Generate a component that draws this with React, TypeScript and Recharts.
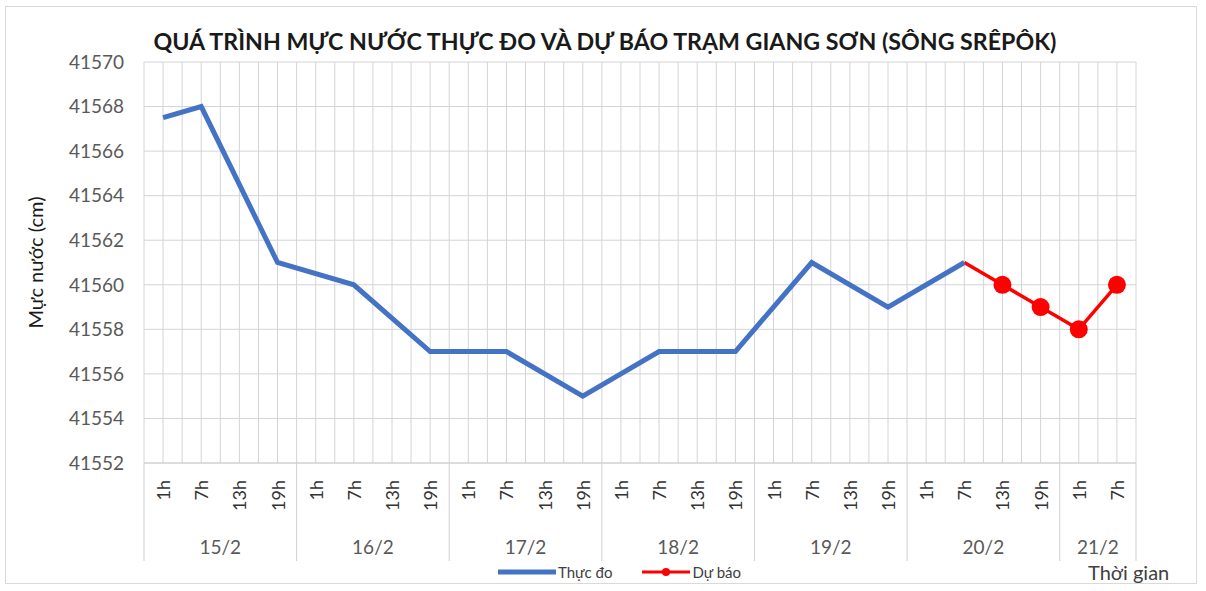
import React from "react";
import { LineChart, Line, XAxis, YAxis, CartesianGrid } from "recharts";

const hours = ["1h","7h","13h","19h","1h","7h","13h","19h","1h","7h","13h","19h","1h","7h","13h","19h","1h","7h","13h","19h","1h","7h","13h","19h","1h","7h"];
const dates = ["15/2","15/2","15/2","15/2","16/2","16/2","16/2","16/2","17/2","17/2","17/2","17/2","18/2","18/2","18/2","18/2","19/2","19/2","19/2","19/2","20/2","20/2","20/2","20/2","21/2","21/2"];
const actual: (number | null)[] = [41567.5,41568,null,41561,null,41560,null,41557,null,41557,null,41555,null,41557,null,41557,null,41561,null,41559,null,41561,null,null,null,null];
const forecast: (number | null)[] = [null,null,null,null,null,null,null,null,null,null,null,null,null,null,null,null,null,null,null,null,null,41561,41560,41559,41558,41560];
const yTicks = [41552,41554,41556,41558,41560,41562,41564,41566,41568,41570];

const data = hours.map((h, i) => ({ key: i, hour: h, date: dates[i], actual: actual[i], forecast: forecast[i] }));

const W = 1206, H = 591;
const LEFT = 144, RIGHT = 70, TOP = 62, BOTTOM = 128;
const PLOT_W = W - LEFT - RIGHT;
const N = hours.length;
const STEP = PLOT_W / N;
const FONT = "Lato, 'Open Sans', sans-serif";

const HourTick = (props: any) => {
  const { x, y, payload } = props;
  const i = payload.index;
  const d = dates[i];
  const isStart = i === 0 || dates[i - 1] !== d;
  let count = 0;
  for (let k = i; k < N && dates[k] === d; k++) count++;
  const isLast = i === N - 1;
  return (
    <g>
      <text x={x} y={y + 9} transform={`rotate(-90 ${x} ${y + 9})`} textAnchor="end" dominantBaseline="central"
        fontSize={18} fill="#333333" fontFamily={FONT}>{hours[i]}</text>
      {isStart && (
        <>
          <line x1={x - STEP / 2} x2={x - STEP / 2} y1={y - 8} y2={y + 90} stroke="#d0d0d0" />
          <text x={x - STEP / 2 + (count * STEP) / 2} y={y + 83} textAnchor="middle" fontSize={19} fill="#595959" fontFamily={FONT}>{d}</text>
        </>
      )}
      {isLast && <line x1={x + STEP / 2} x2={x + STEP / 2} y1={y - 8} y2={y + 90} stroke="#d0d0d0" />}
    </g>
  );
};

export default function App() {
  return (
    <div style={{ position: "absolute", left: 0, top: 0, width: W, height: H, background: "#fff" }}>
      <div style={{ position: "absolute", left: 5, top: 6, width: 1192, height: 578, border: "1px solid #d9d9d9", boxSizing: "border-box" }} />
      <div style={{ position: "absolute", left: 0, top: 27, width: 1210, textAlign: "center", fontFamily: FONT, fontWeight: 700, fontSize: 23.2, color: "#1a1a1a", whiteSpace: "nowrap" }}>
        QUÁ TRÌNH MỰC NƯỚC THỰC ĐO VÀ DỰ BÁO TRẠM GIANG SƠN (SÔNG SRÊPÔK)
      </div>
      <div style={{ position: "absolute", left: 1088, top: 560, fontFamily: FONT, fontSize: 20, color: "#404040" }}>Thời gian</div>
      <div style={{ position: "absolute", left: 498, top: 563, display: "flex", alignItems: "center", fontFamily: FONT, fontSize: 15, color: "#404040" }}>
        <svg width={58} height={12}><line x1={0} x2={58} y1={6} y2={6} stroke="#4472C4" strokeWidth={5} /></svg>
        <span style={{ marginLeft: 2, marginRight: 30 }}>Thực đo</span>
        <svg width={48} height={12}><line x1={0} x2={48} y1={6} y2={6} stroke="#FF0000" strokeWidth={3} /><circle cx={24} cy={6} r={4} fill="#FF0000" /></svg>
        <span style={{ marginLeft: 2 }}>Dự báo</span>
      </div>
      <LineChart width={W} height={H} data={data} margin={{ top: TOP, left: 0, right: RIGHT, bottom: 0 }} style={{ position: "absolute", left: 0, top: 0 }}>
        <CartesianGrid stroke="#d4d4d4"
          verticalCoordinatesGenerator={() => Array.from({ length: 2 * N + 1 }, (_, k) => LEFT + (k * STEP) / 2)} />
        <XAxis dataKey="key" type="category" interval={0} tick={<HourTick />} tickLine={false} axisLine={{ stroke: "#d0d0d0" }}
          height={BOTTOM} padding={{ left: STEP / 2, right: STEP / 2 }} />
        <YAxis domain={[41552, 41570]} ticks={yTicks} interval={0} tickLine={false} axisLine={false} width={LEFT}
          tick={{ fontSize: 19, fill: "#595959", fontFamily: FONT }} tickMargin={14}
          label={{ value: "Mực nước (cm)", angle: -90, position: "insideLeft", offset: 36, style: { fontSize: 20, fill: "#1a1a1a", fontFamily: FONT, textAnchor: "middle" } }} />
        <Line dataKey="forecast" stroke="#FF0000" strokeWidth={3.5} connectNulls isAnimationActive={false}
          dot={(p: any) => (p.index > 21 ? <circle key={p.index} cx={p.cx} cy={p.cy} r={9} fill="#FF0000" /> : <g key={p.index} />)} />
        <Line dataKey="actual" stroke="#4472C4" strokeWidth={5} dot={false} connectNulls isAnimationActive={false} />
      </LineChart>
    </div>
  );
}
